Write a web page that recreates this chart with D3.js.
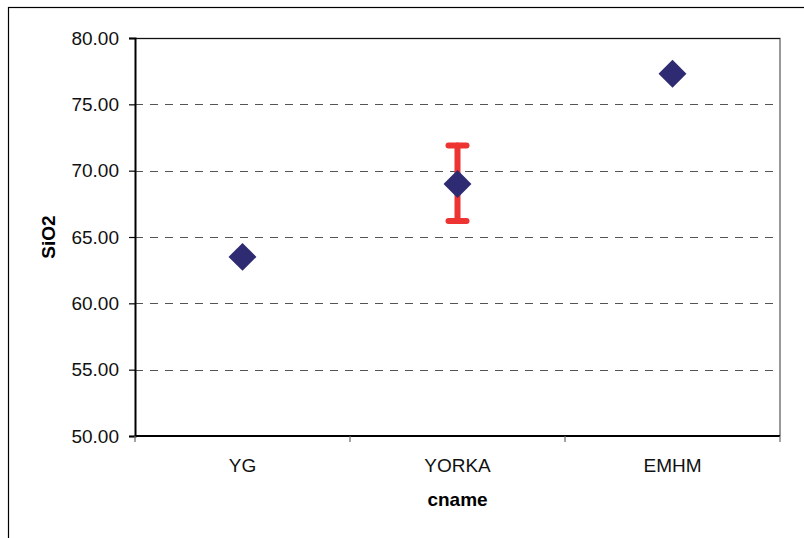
<!DOCTYPE html>
<html>
<head>
<meta charset="utf-8">
<script src="https://cdn.jsdelivr.net/npm/d3@7"></script>
<style>
  html, body { margin: 0; padding: 0; background: #fff; }
  svg { display: block; font-family: Arial, "Liberation Sans", sans-serif; }
</style>
</head>
<body>
<svg id="chart" width="804" height="538"></svg>
<script>
// Mean SiO2 by cname, with the spread shown for YORKA
const categories = ["YG", "YORKA", "EMHM"];
const sio2 = [63.5, 69.0, 77.3];
const errLow = [null, 66.2, null];
const errHigh = [null, 71.9, null];
const yTicks = [50, 55, 60, 65, 70, 75, 80];

const svg = d3.select("#chart");
const margin = { left: 135, right: 24, top: 38, bottom: 102 };
const W = 804, H = 538;
const plotW = W - margin.left - margin.right;
const plotH = H - margin.top - margin.bottom;

// outer frame
svg.append("rect")
  .attr("x", 8.5).attr("y", 7.5)
  .attr("width", 820).attr("height", 560)
  .attr("fill", "none").attr("stroke", "#000").attr("stroke-width", 1.2);

const x = d3.scaleBand().domain(categories).range([0, plotW]).padding(0);
const y = d3.scaleLinear().domain([50, 80]).range([plotH, 0]);

const g = svg.append("g").attr("transform", `translate(${margin.left},${margin.top})`);

// plot frame (top and right)
g.append("path")
  .attr("d", `M0,0.5H${plotW}V${plotH}`)
  .attr("fill", "none").attr("stroke", "#777").attr("stroke-width", 1.5);
g.append("line").attr("x1", 0).attr("x2", plotW).attr("y1", 0.5).attr("y2", 0.5)
  .attr("stroke", "#111").attr("stroke-width", 1.2);

// dashed gridlines
g.append("g").selectAll("line")
  .data(yTicks.filter(v => v > 50 && v < 80))
  .join("line")
  .attr("x1", 0).attr("x2", plotW)
  .attr("y1", d => Math.round(y(d)) + 0.5).attr("y2", d => Math.round(y(d)) + 0.5)
  .attr("stroke", "#555").attr("stroke-width", 1.2)
  .attr("stroke-dasharray", "8,7");

// y axis
const yAxis = g.append("g")
  .call(d3.axisLeft(y).tickValues(yTicks).tickFormat(d3.format(".2f")).tickSize(6).tickPadding(10));
yAxis.select(".domain").attr("stroke", "#000").attr("stroke-width", 2);
yAxis.selectAll(".tick line").attr("stroke", "#000").attr("stroke-width", 1.2);
yAxis.selectAll("text").attr("font-size", 19).attr("fill", "#111")
  .attr("font-family", "Arial, 'Liberation Sans', sans-serif");

// x axis with ticks at category boundaries
const xAxisG = g.append("g").attr("transform", `translate(0,${plotH})`);
xAxisG.append("line").attr("x1", 0).attr("x2", plotW).attr("y1", 0).attr("y2", 0)
  .attr("stroke", "#000").attr("stroke-width", 2);
const bounds = categories.map(c => x(c)).concat([plotW]);
xAxisG.selectAll(".bt").data(bounds).join("line").attr("class", "bt")
  .attr("x1", d => d).attr("x2", d => d).attr("y1", 0).attr("y2", 6)
  .attr("stroke", "#666").attr("stroke-width", 1.2);
xAxisG.selectAll(".cl").data(categories).join("text").attr("class", "cl")
  .attr("x", d => x(d) + x.bandwidth() / 2).attr("y", 36)
  .attr("text-anchor", "middle").attr("font-size", 19).attr("fill", "#111")
  .text(d => d);

// axis titles
svg.append("text")
  .attr("x", margin.left + plotW / 2).attr("y", 506)
  .attr("text-anchor", "middle").attr("font-size", 19).attr("font-weight", "bold")
  .text("cname");
svg.append("text")
  .attr("transform", `translate(55,${margin.top + plotH / 2}) rotate(-90)`)
  .attr("text-anchor", "middle").attr("font-size", 19).attr("font-weight", "bold")
  .text("SiO2");

// error bars
const errData = categories.map((c, i) => ({ c, lo: errLow[i], hi: errHigh[i] }))
  .filter(d => d.lo != null);
const eb = g.append("g").attr("stroke", "#ee3333").attr("stroke-linecap", "round");
eb.selectAll(".ev").data(errData).join("line").attr("class", "ev")
  .attr("x1", d => x(d.c) + x.bandwidth() / 2).attr("x2", d => x(d.c) + x.bandwidth() / 2)
  .attr("y1", d => y(d.lo)).attr("y2", d => y(d.hi)).attr("stroke-width", 6);
["lo", "hi"].forEach(k => {
  eb.selectAll(".cap-" + k).data(errData).join("line").attr("class", "cap-" + k)
    .attr("x1", d => x(d.c) + x.bandwidth() / 2 - 9).attr("x2", d => x(d.c) + x.bandwidth() / 2 + 9)
    .attr("y1", d => y(d[k])).attr("y2", d => y(d[k])).attr("stroke-width", 6);
});

// diamond markers
const diamond = d3.symbol().type(d3.symbolSquare).size(390);
g.selectAll(".pt").data(categories.map((c, i) => ({ c, v: sio2[i] })))
  .join("path").attr("class", "pt")
  .attr("d", diamond)
  .attr("transform", d => `translate(${x(d.c) + x.bandwidth() / 2},${y(d.v)}) rotate(45)`)
  .attr("fill", "#2f2b72");
</script>
</body>
</html>
